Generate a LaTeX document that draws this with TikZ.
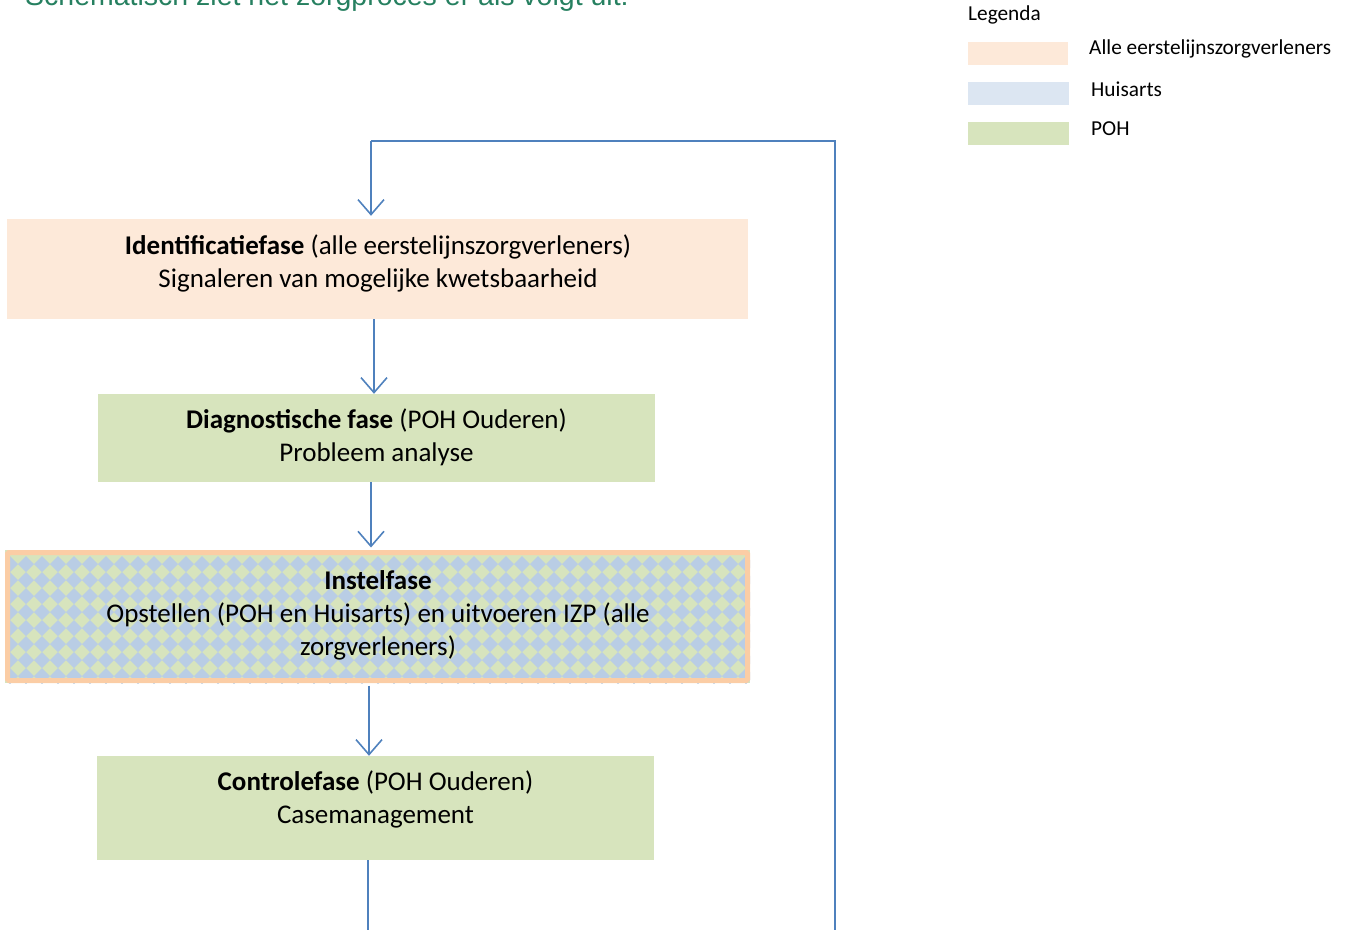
\documentclass[tikz,border=0pt]{standalone}
\usepackage{fontspec}
\setmainfont{Carlito}
\newfontfamily\titlefont{Liberation Sans}
\usetikzlibrary{arrows.meta,backgrounds}
\definecolor{peach}{RGB}{253,233,217}
\definecolor{peachline}{RGB}{251,205,165}
\definecolor{poh}{RGB}{215,228,189}
\definecolor{ha}{RGB}{220,230,242}
\definecolor{patblue}{RGB}{185,205,229}
\definecolor{conn}{RGB}{79,129,189}
\definecolor{titlegreen}{RGB}{38,128,96}
\tikzset{
  phasebox/.style={rectangle, inner sep=0pt, draw=none},
  phasetext/.style={align=center, font=\fontsize{27}{33}\selectfont, inner sep=0pt},
  legbox/.style={rectangle, inner sep=0pt, minimum width=101pt, minimum height=23pt, anchor=west},
  legtext/.style={anchor=west, inner sep=0pt, font=\fontsize{21.3}{24}\selectfont},
  conline/.style={draw=conn, line width=1.6pt},
  arr/.style={conline, -{Straight Barb[length=15pt,width=26pt,line width=1.6pt]}}
}
\begin{document}
\begin{tikzpicture}[x=1pt,y=1pt]
\useasboundingbox (0,0) rectangle (1351,-929);
% title (cut off at top)
\node[anchor=base west, inner sep=0pt, text=titlegreen, font=\titlefont\fontsize{28.5}{32}\selectfont] (title) at (25,-5) {Schematisch ziet het zorgproces er als volgt uit:};
% legend
\node[legtext] (legtitle) at (968,-15) {Legenda};
\node[legbox, fill=peach, minimum width=100pt] (leg1) at (968,-53.5) {};
\node[legbox, fill=ha] (leg2) at (968,-93.5) {};
\node[legbox, fill=poh] (leg3) at (968,-133.5) {};
\node[legtext] (leg1t) at (1089,-49) {Alle eerstelijnszorgverleners};
\node[legtext] (leg2t) at (1091,-89) {Huisarts};
\node[legtext] (leg3t) at (1091,-129) {POH};
% phase boxes
\node[phasebox, fill=peach, minimum width=741pt, minimum height=100pt] (id) at (377.5,-269) {};
\node[phasetext] (idt) at (378,-263) {\textbf{Identificatiefase} (alle eerstelijnszorgverleners)\\Signaleren van mogelijke kwetsbaarheid};
\node[phasebox, fill=poh, minimum width=557pt, minimum height=88pt] (diag) at (376.5,-438) {};
\node[phasetext] (diagt) at (376.5,-437) {\textbf{Diagnostische fase} (POH Ouderen)\\Probleem analyse};
\node[phasebox, draw=peachline, line width=5pt, rounded corners=1.5pt, minimum width=740pt, minimum height=128pt] (inst) at (377.5,-616.5) {};
\begin{scope}[on background layer]
  \clip (inst.south west) rectangle (inst.north east);
  \fill[poh] (inst.south west) rectangle (inst.north east);
  \foreach \i in {0,...,48} {
    \foreach \j in {0,...,9} {
      \fill[patblue] (10+16*\i,-556-16*\j) -- ++(8,-8) -- ++(-8,-8) -- ++(-8,8) -- cycle;
    }
  }
\end{scope}
\node[phasetext] (instt) at (378,-615) {\textbf{Instelfase}\\Opstellen (POH en Huisarts) en uitvoeren IZP (alle\\zorgverleners)};
\node[phasebox, fill=poh, minimum width=557pt, minimum height=104pt] (ctrl) at (375.5,-808) {};
\node[phasetext] (ctrlt) at (375.5,-799) {\textbf{Controlefase} (POH Ouderen)\\Casemanagement};
% connectors
\draw[arr] ([xshift=-3.5pt]id.south) -- ([xshift=-2.5pt]diag.north);
\draw[arr] ([xshift=-5.5pt]diag.south) -- ([xshift=-6.5pt,yshift=2.5pt]inst.north);
\draw[arr] ([xshift=-8.5pt,yshift=-2.5pt]inst.south) -- ([xshift=-6.5pt]ctrl.north);
\coordinate (bl) at (368,-945);
\coordinate (br) at (835,-945);
\coordinate (tr) at (835,-141);
\coordinate (tl) at (371,-141);
\draw[conline] ([xshift=-7.5pt]ctrl.south) -- (bl) -- (br) -- (tr) -- (tl);
\draw[arr] (tl) -- ([xshift=-6.5pt,yshift=3pt]id.north);
\end{tikzpicture}
\end{document}
